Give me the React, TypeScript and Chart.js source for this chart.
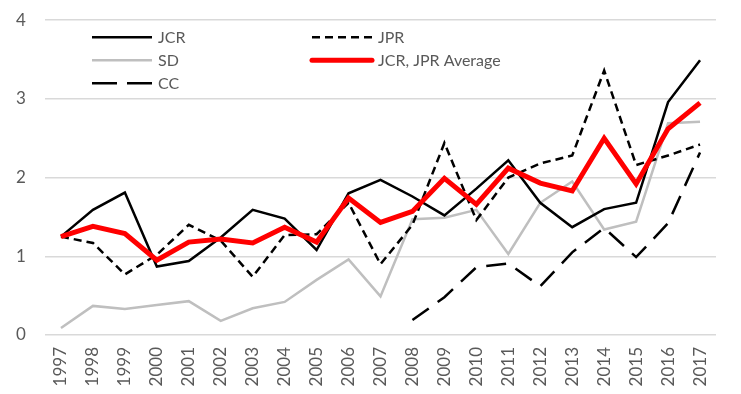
import React, { useEffect, useRef } from "react";
import { Chart, registerables } from "chart.js";

Chart.register(...registerables);

const years = ["1997","1998","1999","2000","2001","2002","2003","2004","2005","2006","2007","2008","2009","2010","2011","2012","2013","2014","2015","2016","2017"];
const jcr = [1.25,1.59,1.81,0.87,0.94,1.24,1.59,1.48,1.08,1.80,1.97,1.76,1.52,1.86,2.22,1.68,1.37,1.60,1.68,2.96,3.49];
const jpr = [1.25,1.17,0.77,1.02,1.40,1.20,0.74,1.27,1.28,1.68,0.90,1.40,2.44,1.46,2.00,2.18,2.28,3.36,2.16,2.28,2.42];
const sd = [0.09,0.37,0.33,0.38,0.43,0.18,0.34,0.42,0.70,0.96,0.49,1.47,1.49,1.59,1.03,1.68,1.95,1.34,1.44,2.69,2.71];
const avg = [1.25,1.38,1.29,0.95,1.18,1.22,1.17,1.37,1.18,1.74,1.43,1.57,1.99,1.66,2.12,1.93,1.83,2.50,1.92,2.62,2.95];
const cc = [null,null,null,null,null,null,null,null,null,null,null,0.19,0.48,0.86,0.91,0.62,1.05,1.36,0.99,1.42,2.32];
const yTicks = [0, 1, 2, 3, 4];

const FONT = "Lato, 'Open Sans', sans-serif";
const TEXT = "#595959";

const legendPlugin = {
  id: "insideLegend",
  afterDraw(chart: any) {
    const ctx = chart.ctx;
    const area = chart.chartArea;
    const ds = chart.data.datasets;
    const slots = [
      { i: 0, col: 0, row: 0 },
      { i: 1, col: 1, row: 0 },
      { i: 2, col: 0, row: 1 },
      { i: 3, col: 1, row: 1 },
      { i: 4, col: 0, row: 2 },
    ];
    ctx.save();
    ctx.font = `16px ${FONT}`;
    ctx.textBaseline = "middle";
    ctx.textAlign = "left";
    for (const s of slots) {
      const d = ds[s.i];
      const x0 = area.left + 47 + s.col * 220;
      const y = area.top + 17 + s.row * 23;
      ctx.beginPath();
      ctx.strokeStyle = d.borderColor;
      ctx.lineWidth = d.borderWidth;
      ctx.setLineDash(d.legendDash || d.borderDash || []);
      ctx.lineCap = d.borderWidth > 4 ? "round" : "butt";
      ctx.moveTo(x0, y);
      ctx.lineTo(x0 + 60, y);
      ctx.stroke();
      ctx.setLineDash([]);
      ctx.fillStyle = TEXT;
      ctx.fillText(d.label, x0 + 66, y + 1);
    }
    ctx.restore();
  },
};

export default function App() {
  const ref = useRef<HTMLCanvasElement>(null);
  useEffect(() => {
    document.body.style.margin = "0";
    const chart = new Chart(ref.current!, {
      type: "line",
      data: {
        labels: years,
        datasets: [
          { label: "JCR", data: jcr, borderColor: "#000000", borderWidth: 2.5, pointRadius: 0, tension: 0, order: 3 },
          { label: "JPR", data: jpr, borderColor: "#000000", borderWidth: 2.5, borderDash: [8, 5], pointRadius: 0, tension: 0, order: 2 },
          { label: "SD", data: sd, borderColor: "#BFBFBF", borderWidth: 2.5, pointRadius: 0, tension: 0, order: 4 },
          { label: "JCR, JPR Average", data: avg, borderColor: "#FF0000", borderWidth: 5, pointRadius: 0, tension: 0, order: 0 },
          { label: "CC", data: cc, borderColor: "#000000", borderWidth: 2.5, borderDash: [20, 11], legendDash: [25, 10], pointRadius: 0, tension: 0, order: 1, spanGaps: false } as any,
        ],
      },
      options: {
        animation: false,
        responsive: false,
        layout: { padding: { top: 0, right: 25, left: 16, bottom: 0 } },
        plugins: { legend: { display: false }, tooltip: { enabled: false } },
        scales: {
          x: {
            offset: true,
            grid: { display: false },
            border: { display: false },
            ticks: { color: TEXT, font: { family: FONT, size: 17 }, minRotation: 90, maxRotation: 90, autoSkip: false, padding: 4 },
            afterFit: (s: any) => { s.height = 59; },
          },
          y: {
            min: 0,
            max: 4,
            afterBuildTicks: (s: any) => { s.ticks = yTicks.map((v) => ({ value: v })); },
            grid: { color: "#D9D9D9", lineWidth: 1.5, drawTicks: false },
            border: { display: false },
            ticks: { color: TEXT, font: { family: FONT, size: 17 }, padding: 10, crossAlign: "far" },
            afterFit: (s: any) => { s.width = 29; },
          },
        },
      },
      plugins: [legendPlugin],
    });
    return () => chart.destroy();
  }, []);
  return (
    <div style={{ width: 741, height: 394 }}>
      <canvas ref={ref} width={741} height={394} style={{ width: 741, height: 394, display: "block" }} />
    </div>
  );
}
